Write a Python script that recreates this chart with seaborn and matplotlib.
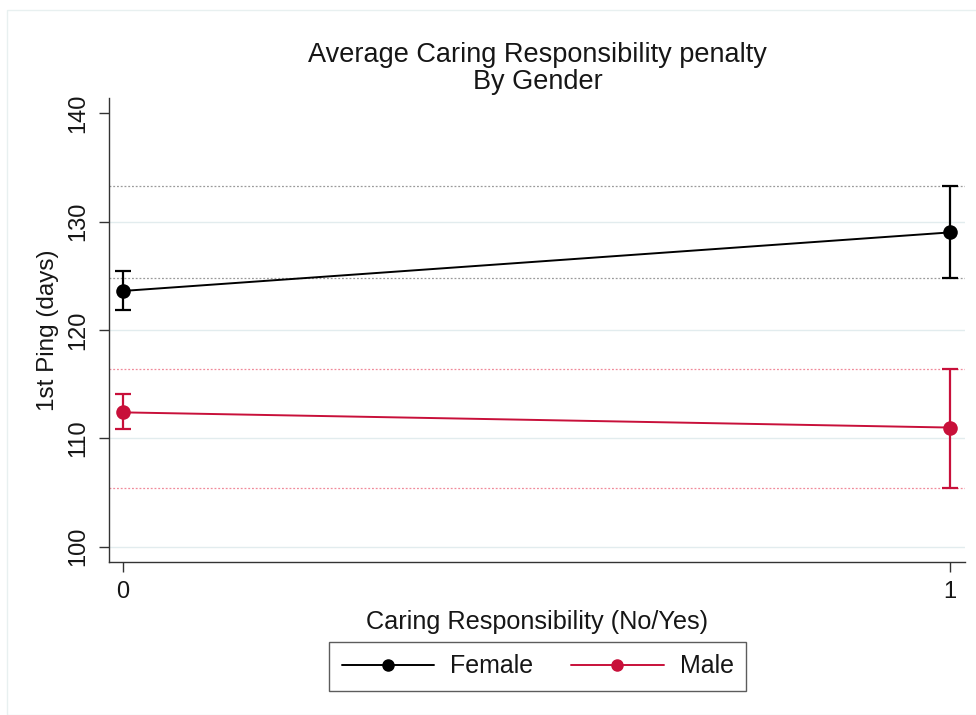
import matplotlib
matplotlib.use("Agg")
import matplotlib.pyplot as plt
from matplotlib.patches import Rectangle
import seaborn as sns
import pandas as pd

# Mean days to first ping, with 95% CI bounds, by caring responsibility and gender
caring = [0, 1]
female_mean = [123.6, 129.0]
female_lo = [121.8, 124.8]
female_hi = [125.4, 133.3]
male_mean = [112.4, 111.0]
male_lo = [110.9, 105.4]
male_hi = [114.1, 116.4]
yticks = [100, 110, 120, 130, 140]

colors = {"Female": "#000000", "Male": "#c8103a"}
ref_styles = {"Female": "#9a9a9a", "Male": "#f08a9a"}

df = pd.DataFrame({
    "caring": caring * 2,
    "gender": ["Female"] * 2 + ["Male"] * 2,
    "mean": female_mean + male_mean,
    "lo": female_lo + male_lo,
    "hi": female_hi + male_hi,
})

sns.set_theme(style="white")
plt.rcParams["font.family"] = ["Liberation Sans", "DejaVu Sans"]
ink = "#161616"
plt.rcParams.update({"text.color": ink, "axes.labelcolor": ink,
                     "xtick.color": ink, "ytick.color": ink})

fig = plt.figure(figsize=(9.76, 7.15), dpi=100)
ax = fig.add_axes([0.1117, 0.214, 0.877, 0.649])

# light horizontal grid (interior ticks only)
for t in yticks[:-1]:
    ax.axhline(t, color="#e2ecee", lw=1.0, zorder=0)

# dotted reference lines at the upper/lower bounds for Yes
for g in ["Female", "Male"]:
    sub = df[(df.gender == g) & (df.caring == 1)]
    for v in [sub["lo"].iloc[0], sub["hi"].iloc[0]]:
        ax.axhline(v, color=ref_styles[g], lw=0.9, ls=(0, (1.5, 1.5)), zorder=1)

sns.lineplot(data=df, x="caring", y="mean", hue="gender", palette=colors,
             marker="o", markersize=10.5, markeredgewidth=0, linewidth=1.4,
             ax=ax, legend=False, zorder=3)

for g in ["Female", "Male"]:
    sub = df[df.gender == g]
    ax.errorbar(sub["caring"], sub["mean"],
                yerr=[sub["mean"] - sub["lo"], sub["hi"] - sub["mean"]],
                fmt="none", ecolor=colors[g], elinewidth=1.6, capsize=6,
                capthick=1.6, zorder=2)

ax.set_xlim(-0.017, 1.018)
ax.set_ylim(98.6, 141.4)
ax.set_xticks(caring)
ax.set_xticklabels(["0", "1"], fontsize=17)
ax.set_yticks(yticks)
ax.set_yticklabels([str(t) for t in yticks], fontsize=17, rotation=90, va="center")
ax.tick_params(axis="both", which="both", length=7, width=1, color="#333333",
               bottom=True, left=True, pad=7)
for s in ["top", "right"]:
    ax.spines[s].set_visible(False)
for s in ["left", "bottom"]:
    ax.spines[s].set_color("#333333")
    ax.spines[s].set_linewidth(1.0)

ax.set_xlabel("Caring Responsibility (No/Yes)", fontsize=18.2, labelpad=5)
ax.set_ylabel("1st Ping (days)", fontsize=17.5, labelpad=6)
fig.text(0.551, 0.923, "Average Caring Responsibility penalty", ha="center",
         va="center", fontsize=19.5)
fig.text(0.551, 0.886, "By Gender", ha="center", va="center", fontsize=19.5)

# legend
handles = [plt.Line2D([], [], color=colors[g], marker="o", markersize=8, lw=1.4)
           for g in ["Female", "Male"]]
leg = fig.legend(handles, ["Female", "Male"], loc="center",
                 bbox_to_anchor=(0.551, 0.068), ncol=2, fontsize=18,
                 frameon=True, fancybox=False, handlelength=3.7,
                 handletextpad=0.65, columnspacing=1.5, borderpad=0.5,
                 borderaxespad=0)
leg.get_frame().set_edgecolor("#333333")
leg.get_frame().set_linewidth(1.0)

# outer graph region border
fig.patches.append(Rectangle((7 / 976, 0.0), 1.0, 1 - 10 / 715,
                             transform=fig.transFigure, fill=False,
                             edgecolor="#e8f0f0", lw=1.0))

fig.savefig("out.png", dpi=100, facecolor="white")
